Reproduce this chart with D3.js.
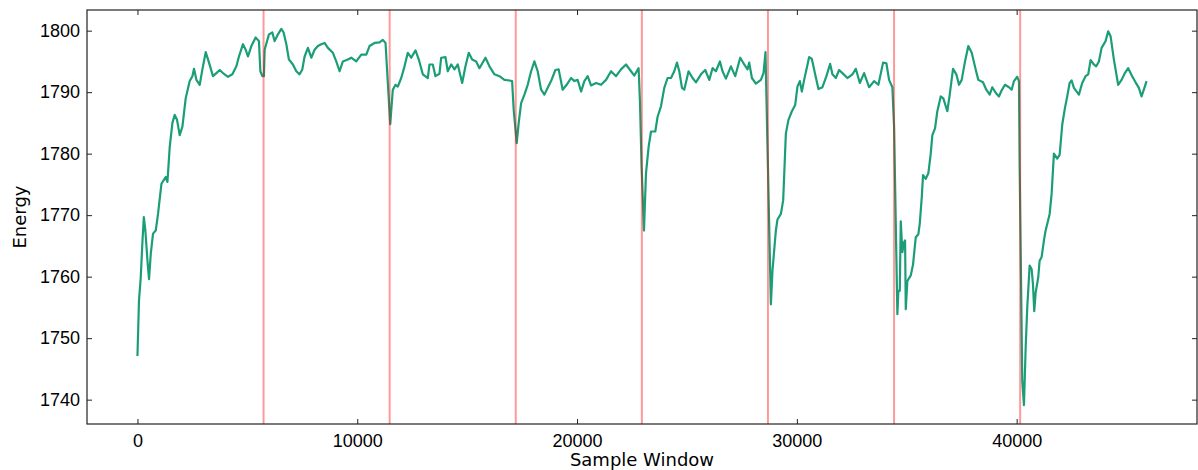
<!DOCTYPE html>
<html>

<head>
    <meta charset="utf-8">
    <style>
        body {
            margin: 0;
            background: #fff;
        }

        svg {
            font-family: 'DejaVu Sans', sans-serif;
        }

        .tick text {
            font-size: 18px;
            fill: #000;
        }

        .tick line {
            stroke: #222;
        }

        .domain {
            display: none;
        }
    </style>
</head>

<body>
    <svg width="1198" height="470"></svg>
</body>

<script src="https://d3js.org/d3.v7.min.js"></script>

<script>
    // sample window index and energy
    let sampleWindow = [
        0, 70, 150, 230, 290, 360, 455, 527, 605, 709, 832, 936, 1091, 1195, 1286, 1364, 1468, 1591, 1695, 1800,
        1923, 2045, 2195, 2377, 2500, 2573, 2682, 2832, 2955, 3105, 3255, 3436, 3591, 3741, 3923, 4118, 4318, 4500,
        4618, 4800, 4923, 5027, 5182, 5377, 5527, 5591, 5682, 5755,
        5786, 5982, 6136, 6241, 6391, 6545, 6650, 6773, 6891, 7073, 7227, 7377, 7500, 7605, 7755, 7909, 8059, 8209,
        8364, 8514, 8664, 8891, 9045, 9195, 9345, 9573, 9727, 9955, 10182, 10409, 10559, 10786, 11014, 11164, 11286,
        11391, 11500,
        11618, 11741, 11845, 12000, 12150, 12300, 12455, 12650, 12800, 12982, 13209, 13286, 13436, 13559, 13741,
        13818, 14014, 14118, 14273, 14423, 14573, 14773, 14923, 15073, 15227, 15409, 15559, 15832, 16014, 16241,
        16468, 16695, 16923, 17045, 17118, 17255,
        17345, 17455, 17605, 17755, 17909, 18059, 18209, 18364, 18514, 18664, 18818, 19014, 19164, 19345, 19527,
        19727, 19877, 20027, 20182, 20332, 20482, 20636, 20864, 21091, 21318, 21545, 21773, 22000, 22227, 22455,
        22605, 22800, 22864, 22936, 23045,
        23136, 23255, 23364, 23559, 23664, 23818, 23968, 24118, 24273, 24423, 24545, 24650, 24773, 24877, 25073,
        25255, 25409, 25636, 25832, 26014, 26164, 26318, 26500, 26618, 26773, 27000, 27195, 27423, 27605, 27755,
        27832, 27955, 28136, 28364, 28482, 28573, 28618, 28818,
        28891, 29045, 29118, 29273, 29377, 29500, 29618, 29773, 29923, 30027, 30136, 30227, 30332, 30436, 30559,
        30682, 30832, 30982, 31164, 31345, 31514, 31618, 31773, 31923, 32073, 32300, 32527, 32682, 32864, 33059,
        33286, 33514, 33709, 33923, 34073, 34195, 34345, 34423, 34573,
        34618, 34682, 34727, 34800, 34877, 34923, 34955, 35027, 35182, 35286, 35409, 35527, 35591, 35682, 35741,
        35864, 35982, 36091, 36164, 36286, 36391, 36545, 36664, 36845, 36955, 37105, 37255, 37377, 37500, 37650,
        37800, 37955, 38136, 38255, 38468, 38618, 38773, 38891, 39045, 39195, 39318, 39468, 39650, 39773, 39877,
        40027, 40105, 40136, 40255, 40332,
        40409, 40482, 40591, 40682, 40741, 40800, 40864, 40982, 41045, 41136, 41241, 41318, 41436, 41500, 41591,
        41695, 41845, 41955, 42073, 42195, 42300, 42409, 42500, 42605, 42832, 42982, 43136, 43255, 43364, 43514,
        43618, 43741, 43864, 44045, 44164, 44273, 44423, 44618, 44773, 44923, 45073, 45255, 45409, 45559, 45682,
        45786, 45909
    ]

    let energy = [
        1747.1, 1756.1, 1759.9, 1765.9, 1769.7, 1767.5, 1762.6, 1759.6, 1763.7, 1767.0, 1767.5, 1770.2, 1775.1, 1775.7,
        1776.2, 1775.4, 1781.1, 1785.0, 1786.3, 1785.5, 1783.0, 1784.4, 1789.0, 1791.8, 1792.6, 1793.8, 1792.0, 1791.2,
        1793.7, 1796.5, 1794.8, 1792.6, 1793.1, 1793.6, 1793.0, 1792.5, 1792.9, 1794.2, 1795.8, 1797.8, 1796.9, 1795.8,
        1797.5, 1798.9, 1798.3, 1793.4, 1792.6, 1792.6,
        1796.9, 1799.4, 1799.7, 1798.3, 1799.4, 1800.3, 1799.7, 1797.8, 1795.3, 1794.5, 1793.4, 1792.9, 1793.7, 1795.8,
        1797.2, 1795.6, 1796.9, 1797.5, 1797.8, 1798.0, 1797.2, 1796.4, 1795.0, 1793.4, 1795.0, 1795.3, 1795.6, 1795.0,
        1796.1, 1796.1, 1797.5, 1798.0, 1798.1, 1798.5, 1798.0, 1791.5, 1784.8,
        1790.4, 1791.2, 1790.9, 1792.3, 1794.2, 1796.4, 1795.6, 1796.8, 1795.3, 1792.9, 1792.3, 1794.5, 1794.5, 1792.6,
        1793.0, 1795.6, 1795.7, 1793.4, 1794.5, 1793.7, 1794.5, 1791.5, 1794.2, 1796.4, 1795.3, 1795.0, 1793.9, 1795.6,
        1794.2, 1792.9, 1792.6, 1792.0, 1791.9, 1791.8, 1787.1, 1781.7,
        1785.0, 1788.2, 1789.6, 1791.2, 1793.4, 1795.0, 1793.4, 1790.4, 1789.6, 1790.7, 1791.8, 1793.6, 1793.7, 1790.4,
        1791.2, 1792.3, 1791.8, 1792.0, 1790.1, 1791.8, 1792.6, 1791.1, 1791.5, 1791.2, 1792.0, 1793.4, 1792.6, 1793.7,
        1794.5, 1793.4, 1792.7, 1793.9, 1788.2, 1777.9, 1767.5,
        1776.8, 1781.1, 1783.6, 1783.6, 1786.0, 1787.7, 1790.7, 1792.3, 1792.3, 1793.4, 1794.8, 1793.4, 1790.7, 1790.4,
        1793.4, 1792.3, 1791.6, 1792.9, 1793.6, 1792.0, 1793.9, 1793.4, 1795.0, 1793.4, 1792.2, 1794.2, 1792.6, 1795.6,
        1794.5, 1793.7, 1794.8, 1792.3, 1791.4, 1792.0, 1793.1, 1796.5, 1788.8, 1755.5,
        1761.0, 1767.5, 1769.3, 1770.2, 1772.4, 1783.3, 1785.5, 1786.9, 1787.9, 1790.9, 1791.8, 1790.1, 1792.0, 1793.7,
        1795.7, 1795.4, 1792.9, 1790.5, 1790.8, 1792.6, 1794.6, 1792.9, 1792.3, 1793.6, 1793.1, 1792.3, 1792.9, 1793.8,
        1791.5, 1793.1, 1790.8, 1791.8, 1791.2, 1794.8, 1794.7, 1792.0, 1790.8, 1784.4, 1753.9,
        1757.7, 1757.7, 1769.0, 1764.0, 1765.6, 1765.9, 1754.7, 1759.3, 1760.2, 1762.0, 1766.4, 1766.9, 1768.6, 1772.9,
        1776.5, 1775.9, 1776.8, 1780.0, 1783.0, 1784.1, 1786.9, 1789.3, 1789.0, 1786.9, 1789.6, 1793.8, 1792.9, 1791.2,
        1792.0, 1795.0, 1797.5, 1796.4, 1793.7, 1792.0, 1791.6, 1790.4, 1789.6, 1790.8, 1789.9, 1789.3, 1790.3, 1791.2,
        1790.8, 1790.4, 1791.8, 1792.5, 1791.8, 1777.9, 1743.0, 1739.1,
        1748.4, 1755.0, 1761.8, 1761.2, 1758.8, 1754.4, 1757.4, 1759.9, 1762.6, 1763.2, 1765.9, 1767.5, 1769.2, 1770.2,
        1773.5, 1780.0, 1779.2, 1779.8, 1784.7, 1787.4, 1789.3, 1791.5, 1791.9, 1790.7, 1789.6, 1791.5, 1792.6, 1792.9,
        1795.2, 1794.5, 1794.2, 1795.0, 1797.2, 1798.3, 1799.9, 1799.1, 1795.3, 1791.2, 1792.0, 1793.1, 1793.9, 1792.6,
        1791.6, 1790.7, 1789.3, 1790.4, 1791.8
    ]

    // detected change points (red vertical lines)
    let changePoints = [5737, 11474, 17211, 22948, 28685, 34422, 40159]

    let xTicks = [0, 10000, 20000, 30000, 40000]
    let yTicks = [1740, 1750, 1760, 1770, 1780, 1790, 1800]

    let data = sampleWindow.map(function (d, i) {
        return { x: d, y: energy[i] }
    })

    let margin = { top: 10, right: 1, bottom: 46, left: 87 };
    let width = 1198
    let height = 470
    let innerW = width - margin.left - margin.right
    let innerH = height - margin.top - margin.bottom

    let svg = d3.select("svg")

    // matplotlib style 5% margins
    let xExt = d3.extent(sampleWindow)
    let yExt = d3.extent(energy)
    let xPad = (xExt[1] - xExt[0]) * 0.05
    let yPad = (yExt[1] - yExt[0]) * 0.05

    let x = d3.scaleLinear()
        .domain([xExt[0] - xPad, xExt[1] + xPad])
        .range([margin.left, margin.left + innerW])

    let y = d3.scaleLinear()
        .domain([yExt[0] - yPad, yExt[1] + yPad])
        .range([margin.top + innerH, margin.top])

    let line = d3.line()
        .x(d => x(d.x))
        .y(d => y(d.y))

    svg.append("path")
        .datum(data)
        .attr("d", line)
        .style("fill", "none")
        .style("stroke", "#1b9e77")
        .style("stroke-width", "2.2px")
        .style("stroke-linejoin", "round")

    svg.append("g")
        .selectAll("line")
        .data(changePoints)
        .join("line")
        .attr("x1", d => x(d))
        .attr("x2", d => x(d))
        .attr("y1", margin.top)
        .attr("y2", margin.top + innerH)
        .style("stroke", "red")
        .style("stroke-opacity", 0.4)
        .style("stroke-width", "2px")

    // axes, ticks pointing inward on all four sides
    svg.append("g")
        .attr("class", "x axis")
        .attr("transform", `translate(0,${margin.top + innerH})`)
        .call(d3.axisBottom(x).tickValues(xTicks).tickSize(-5).tickPadding(10).tickFormat(d3.format("d")))

    svg.append("g")
        .attr("class", "x2 axis")
        .attr("transform", `translate(0,${margin.top})`)
        .call(d3.axisTop(x).tickValues(xTicks).tickSize(-5).tickFormat(""))

    svg.append("g")
        .attr("class", "y axis")
        .attr("transform", `translate(${margin.left},0)`)
        .call(d3.axisLeft(y).tickValues(yTicks).tickSize(-5).tickPadding(7).tickFormat(d3.format("d")))

    svg.append("g")
        .attr("class", "y2 axis")
        .attr("transform", `translate(${margin.left + innerW},0)`)
        .call(d3.axisRight(y).tickValues(yTicks).tickSize(-5).tickFormat(""))

    svg.append("rect")
        .attr("x", margin.left)
        .attr("y", margin.top)
        .attr("width", innerW)
        .attr("height", innerH)
        .style("fill", "none")
        .style("stroke", "#222")
        .style("stroke-width", "1.2px")

    svg.append("text")
        .attr("x", margin.left + innerW / 2)
        .attr("y", 466)
        .attr("text-anchor", "middle")
        .style("font-size", "18px")
        .text("Sample Window")

    svg.append("text")
        .attr("transform", `translate(26,${margin.top + innerH / 2}) rotate(-90)`)
        .attr("text-anchor", "middle")
        .style("font-size", "18px")
        .text("Energy")
</script>

</html>
